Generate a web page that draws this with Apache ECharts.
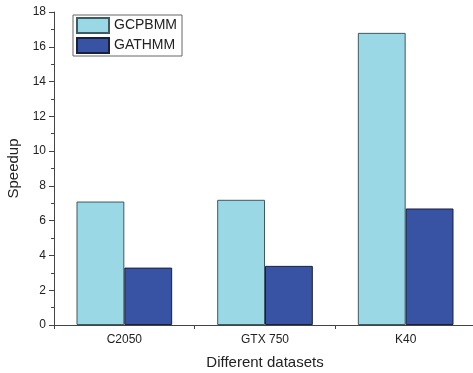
<!DOCTYPE html>
<html>
<head>
<meta charset="utf-8">
<script src="https://cdn.jsdelivr.net/npm/echarts@6/dist/echarts.min.js"></script>
<style>
  html, body { margin: 0; padding: 0; background: #fff; }
  #chart { width: 473px; height: 373px; }
</style>
</head>
<body>
<div id="chart"></div>
<script>
// data
var datasets = ["C2050", "GTX 750", "K40"];
var gcpbmm = [7.1, 7.2, 16.8];
var gathmm = [3.3, 3.4, 6.7];

var font = "Liberation Sans, Arial, sans-serif";
var axisColor = "#444";

var chart = echarts.init(document.getElementById("chart"));
chart.setOption({
  animation: false,
  textStyle: { fontFamily: font },
  grid: { left: 54, right: -3, top: 12, bottom: 48, outerBoundsMode: "none", containLabel: false },
  legend: {
    orient: "vertical",
    left: 73,
    top: 15,
    padding: [2, 5, 2, 3],
    itemGap: 3,
    itemWidth: 32,
    itemHeight: 15,
    borderColor: "#666",
    borderWidth: 1,
    icon: "rect",
    textStyle: { fontFamily: font, fontSize: 14, color: "#222" },
    data: ["GCPBMM", "GATHMM"]
  },
  xAxis: [
    {
      type: "category",
      data: datasets,
      name: "Different datasets",
      nameLocation: "middle",
      nameGap: 30,
      nameTextStyle: { fontFamily: font, fontSize: 15, color: "#222" },
      axisLine: { lineStyle: { color: axisColor, width: 1 } },
      axisTick: { alignWithLabel: true, length: 6, lineStyle: { color: axisColor } },
      axisLabel: { fontFamily: font, fontSize: 12, color: "#222", margin: 9 }
    },
    {
      // short ticks on the category boundaries
      type: "value",
      min: 0,
      max: 3,
      interval: 1,
      position: "bottom",
      axisLine: { show: false },
      axisTick: { show: true, length: 4, lineStyle: { color: axisColor } },
      axisLabel: { show: false },
      splitLine: { show: false }
    }
  ],
  yAxis: {
    type: "value",
    name: "Speedup",
    nameLocation: "middle",
    nameGap: 31,
    nameTextStyle: { fontFamily: font, fontSize: 15, color: "#222" },
    min: 0,
    max: 18,
    interval: 2,
    axisLine: { show: true, lineStyle: { color: axisColor, width: 1 } },
    axisTick: { show: true, length: 5, lineStyle: { color: axisColor } },
    minorTick: { show: true, splitNumber: 2, length: 3, lineStyle: { color: axisColor } },
    splitLine: { show: false },
    axisLabel: { fontFamily: font, fontSize: 12, color: "#222", margin: 8 }
  },
  series: [
    {
      name: "GCPBMM",
      type: "bar",
      data: gcpbmm,
      barGap: "0%",
      barCategoryGap: "32%",
      itemStyle: { color: "#9ad8e6", borderColor: "#3f5a60", borderWidth: 1 }
    },
    {
      name: "GATHMM",
      type: "bar",
      data: gathmm,
      barGap: "0%",
      barCategoryGap: "32%",
      itemStyle: { color: "#3853a4", borderColor: "#1a1f3a", borderWidth: 1 }
    }
  ]
});
</script>
</body>
</html>
